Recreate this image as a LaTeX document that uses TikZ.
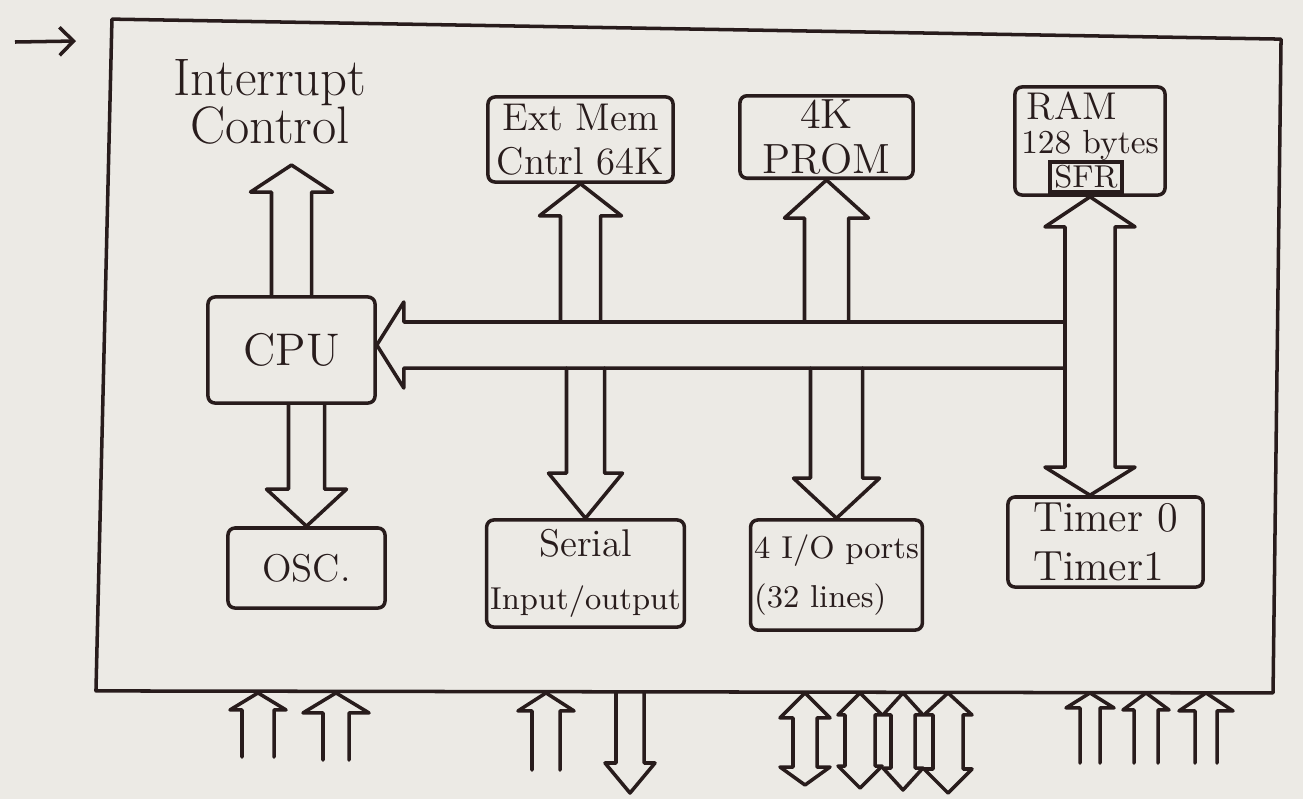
\documentclass[tikz,border=0pt]{standalone}
\usetikzlibrary{calc,arrows.meta}
\definecolor{paper}{RGB}{236,234,229}
\definecolor{ink}{RGB}{40,28,28}
% block arrow pointing up: tail #1, tip #2, half shaft #3, half head #4, head length #5 (px)
\newcommand\bupar[5]{\draw[barrow] let \p1=(#1), \p2=(#2) in
  (\x1-#3*0.1mm,\y1) -- (\x1-#3*0.1mm,\y2-#5*0.1mm) -- (\x1-#4*0.1mm,\y2-#5*0.1mm) -- (\x1,\y2)
  -- (\x1+#4*0.1mm,\y2-#5*0.1mm) -- (\x1+#3*0.1mm,\y2-#5*0.1mm) -- (\x1+#3*0.1mm,\y1);}
% block arrow pointing down
\newcommand\bdownar[5]{\draw[barrow] let \p1=(#1), \p2=(#2) in
  (\x1-#3*0.1mm,\y1) -- (\x1-#3*0.1mm,\y2+#5*0.1mm) -- (\x1-#4*0.1mm,\y2+#5*0.1mm) -- (\x1,\y2)
  -- (\x1+#4*0.1mm,\y2+#5*0.1mm) -- (\x1+#3*0.1mm,\y2+#5*0.1mm) -- (\x1+#3*0.1mm,\y1);}
% double headed vertical block arrow: top tip #1, bottom tip #2
\newcommand\bdbl[6]{\draw[barrow] let \p1=(#1), \p2=(#2) in
  (\x1-#3*0.1mm,\y1-#5*0.1mm) -- (\x1-#4*0.1mm,\y1-#5*0.1mm) -- (\x1,\y1) -- (\x1+#4*0.1mm,\y1-#5*0.1mm)
  -- (\x1+#3*0.1mm,\y1-#5*0.1mm) -- (\x1+#3*0.1mm,\y2+#6*0.1mm) -- (\x1+#4*0.1mm,\y2+#6*0.1mm) -- (\x1,\y2)
  -- (\x1-#4*0.1mm,\y2+#6*0.1mm) -- (\x1-#3*0.1mm,\y2+#6*0.1mm) -- cycle;}
% block arrow pointing left: tail #1 (right), tip #2 (left)
\newcommand\bleftar[5]{\draw[barrow] let \p1=(#1), \p2=(#2) in
  (\x1,\y1+#3*0.1mm) -- (\x2+#5*0.1mm,\y1+#3*0.1mm) -- (\x2+#5*0.1mm,\y1+#4*0.1mm) -- (\x2,\y1)
  -- (\x2+#5*0.1mm,\y1-#4*0.1mm) -- (\x2+#5*0.1mm,\y1-#3*0.1mm) -- (\x1,\y1-#3*0.1mm);}
\tikzset{
  barrow/.style={draw=ink, line width=1pt, line join=round, line cap=round},
  box/.style={draw=ink, line width=1pt, rounded corners=2pt, inner sep=1pt, align=center},
  every node/.style={text=ink},
}
\begin{document}
\begin{tikzpicture}[x=0.01cm,y=-0.01cm]
\useasboundingbox (0,0) rectangle (1303,799);
\fill[paper] (0,0) rectangle (1303,799);

% chip outline (hand-drawn, slightly skewed)
\node[minimum width=11.72cm, minimum height=6.64cm, inner sep=0pt] (chip) at (691,360) {};
\draw[ink, line width=1pt, line join=round]
  ($(chip.north west)+(8,-8)$) -- ($(chip.north east)+(3,12)$) -- ($(chip.south east)+(-5,0)$)
  -- ($(chip.south west)+(-8,-2)$) -- cycle;

% input arrow
\coordinate (in0) at (15,42);
\coordinate (in1) at (76,41);
\draw[ink, line width=1pt, -{Straight Barb[length=1.4mm,width=2.8mm]}] (in0) -- (in1);

% blocks
\node[inner sep=0pt, align=center, anchor=south, font=\fontsize{15}{13.7}\selectfont] (intr) at (270,145) {Interrupt\\Control};
\node[box, minimum width=1.85cm, minimum height=0.85cm, font=\fontsize{11}{12.5}\selectfont] (extmem) at (580.5,139.5) {Ext Mem\\Cntrl 64K};
\node[box, minimum width=1.73cm, minimum height=0.80cm, font=\fontsize{12}{13}\selectfont] (prom) at (826.5,137) {4K\\PROM};
\node[box, minimum width=1.50cm, minimum height=1.08cm] (ram) at (1090,141) {};
\node[inner sep=0pt, font=\fontsize{11}{12}\selectfont] (ramt) at (1072,106) {RAM};
\node[inner sep=0pt, font=\fontsize{9.5}{11}\selectfont] (ramb) at (1090,145) {128 bytes};
\node[box, minimum width=0.72cm, minimum height=0.30cm, inner sep=0pt, rounded corners=0pt, font=\fontsize{9}{10}\selectfont] (sfr) at (1086,177) {SFR};
\node[box, minimum width=1.67cm, minimum height=1.06cm, font=\fontsize{13}{15}\selectfont] (cpu) at (291.5,350) {CPU};
\node[box, minimum width=1.57cm, minimum height=0.80cm, font=\fontsize{11}{13}\selectfont] (osc) at (306.5,568) {OSC.};
\node[box, minimum width=1.85cm, minimum height=1.07cm, font=\fontsize{11}{15}\selectfont] (serial) at (585.5,573.5) {Serial\\{\fontsize{9}{11}\selectfont Input/output}};
\node[box, minimum width=1.67cm, minimum height=1.10cm, align=left, font=\fontsize{9}{14}\selectfont] (io) at (836.5,575) {4 I/O ports\\(32 lines)};
\node[box, minimum width=1.95cm, minimum height=0.90cm, align=left, font=\fontsize{12}{14}\selectfont] (timer) at (1105.5,542) {Timer 0\\Timer1};

% internal bus
\coordinate (busend) at (1065,345);
\coordinate (bustop) at (700,322);
\coordinate (busbot) at (700,368);
\bleftar{busend}{cpu.east |- busend}{23}{43}{27}

% block arrows inside the chip
\bupar{cpu.north}{$(intr.south)+(0,20)$}{20}{41}{27}
\bdownar{osc.north |- cpu.south}{osc.north}{18}{40}{37}
\bupar{extmem.south |- bustop}{extmem.south}{20}{41}{32}
\bupar{prom.south |- bustop}{prom.south}{22}{42}{38}
\bdownar{serial.north |- busbot}{serial.north}{19}{37}{45}
\bdownar{io.north |- busbot}{io.north}{26}{43}{40}
\bdbl{ram.south}{timer.north -| ram.south}{25}{45}{30}{28}

% external pins
\coordinate (u1) at (258,757);
\coordinate (u2) at (336,760);
\coordinate (u3) at (546,770);
\coordinate (o4) at (630,793);
\coordinate (d1) at (805,785);
\coordinate (d2) at (860,788);
\coordinate (d3) at (903,790);
\coordinate (d4) at (948,793);
\coordinate (u5) at (1090,763);
\coordinate (u6) at (1146,763);
\coordinate (u7) at (1206,763);
\bupar{u1}{u1 |- chip.south}{16}{28}{17}
\bupar{u2}{u2 |- chip.south}{13}{33}{20}
\bupar{u3}{u3 |- chip.south}{14}{28}{18}
\bdownar{o4 |- chip.south}{o4}{14}{25}{30}
\bdbl{d1 |- chip.south}{d1}{12}{25}{25}{18}
\bdbl{d2 |- chip.south}{d2}{15}{22}{22}{22}
\bdbl{d3 |- chip.south}{d3}{12}{20}{22}{22}
\bdbl{d4 |- chip.south}{d4}{15}{24}{22}{24}
\bupar{u5}{u5 |- chip.south}{10}{24}{15}
\bupar{u6}{u6 |- chip.south}{12}{23}{17}
\bupar{u7}{u7 |- chip.south}{11}{27}{18}
\end{tikzpicture}
\end{document}
